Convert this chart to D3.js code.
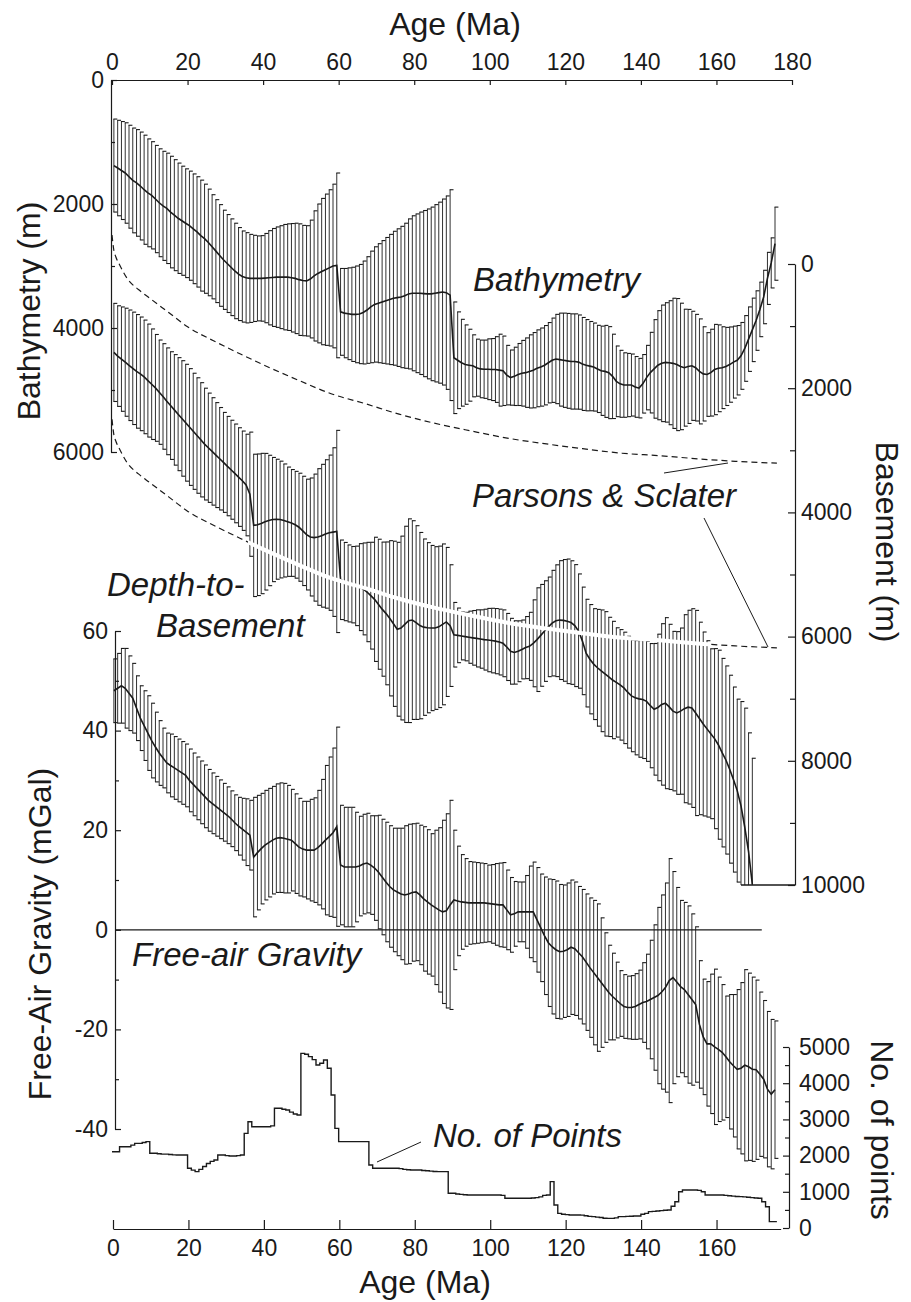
<!DOCTYPE html>
<html>
<head>
<meta charset="utf-8">
<script src="https://cdn.jsdelivr.net/npm/d3@7"></script>
<style>
  body { margin: 0; background: #fff; }
  text { font-family: "Liberation Sans", Arial, Helvetica, sans-serif; fill: #1a1a1a; }
</style>
</head>
<body>
<div id="graph"></div>
<script>
// ---- data (1 Ma bins, bar i sits at age i + 0.5) ----
const bathyMean = [
  1380,1420,1460,1500,1560,1620,1660,1710,1770,1820,
  1860,1920,1980,2030,2070,2130,2180,2230,2270,2310,
  2350,2400,2450,2510,2560,2620,2690,2760,2830,2900,
  2960,3020,3080,3130,3170,3190,3200,3200,3200,3200,
  3195,3190,3185,3180,3180,3180,3180,3190,3200,3220,
  3235,3240,3210,3160,3120,3090,3060,3030,3000,2990,
  3740,3760,3770,3780,3780,3775,3750,3710,3660,3620,
  3600,3580,3560,3540,3520,3510,3500,3480,3450,3440,
  3440,3440,3445,3450,3450,3440,3430,3420,3430,3470,
  4480,4520,4560,4590,4600,4610,4640,4660,4665,4665,
  4670,4670,4680,4690,4760,4800,4780,4750,4730,4720,
  4700,4680,4650,4630,4600,4560,4520,4500,4510,4520,
  4530,4540,4540,4550,4580,4600,4615,4630,4660,4690,
  4700,4720,4780,4860,4900,4920,4920,4920,4950,4970,
  4900,4800,4720,4660,4600,4570,4555,4560,4570,4590,
  4620,4640,4620,4610,4640,4700,4740,4750,4720,4670,
  4650,4640,4620,4590,4550,4520,4450,4330,4180,4030,
  3880,3700,3500,3200,2950,2640
]
const bathySd = [
  750,770,790,810,830,845,860,870,880,870,
  865,865,870,880,890,900,895,890,880,877,
  880,885,890,895,880,860,840,830,820,800,
  790,780,770,750,735,728,710,695,685,690,
  720,760,790,810,830,850,860,875,890,900,
  890,890,950,1050,1120,1180,1220,1260,1320,1490,
  700,720,740,760,780,800,830,860,900,930,
  960,990,1020,1050,1080,1110,1140,1170,1210,1250,
  1280,1310,1340,1370,1400,1430,1460,1500,1560,1700,
  900,780,700,640,580,500,460,465,470,490,
  500,530,580,560,480,445,470,500,530,560,
  590,607,620,630,640,648,680,720,750,760,
  765,768,768,760,750,736,720,710,703,720,
  742,742,680,570,540,520,510,500,490,480,
  472,520,650,795,880,940,963,1000,1050,1065,
  1020,943,920,880,860,847,760,675,700,728,
  700,660,630,607,580,560,539,530,520,512,
  480,440,431,420,404,590
]
const baseMean = [
  1424,1483,1532,1582,1631,1680,1729,1769,1818,1877,
  1936,1995,2064,2133,2211,2280,2349,2418,2487,2556,
  2625,2694,2762,2831,2900,2959,3018,3077,3136,3195,
  3254,3313,3372,3431,3490,3559,3707,4209,4199,4179,
  4150,4130,4115,4110,4115,4130,4150,4170,4199,4239,
  4298,4357,4396,4406,4396,4376,4347,4327,4317,4307,
  5085,5114,5144,5164,5183,5203,5232,5282,5341,5400,
  5479,5558,5626,5705,5794,5882,5862,5803,5744,5734,
  5774,5823,5848,5857,5862,5862,5843,5803,5764,5823,
  5970,5980,5990,6000,6010,6020,6029,6039,6049,6056,
  6064,6073,6088,6108,6167,6236,6255,6236,6207,6177,
  6157,6108,6049,5980,5911,5843,5783,5744,5734,5739,
  5754,5774,5823,5911,6069,6266,6364,6443,6502,6551,
  6600,6649,6699,6738,6777,6826,6895,6954,6984,7003,
  7013,7043,7112,7171,7141,7092,7072,7132,7200,7230,
  7200,7161,7136,7151,7230,7318,7407,7486,7564,7643,
  7741,7869,7987,8135,8302,8480,8726,9070,9464,9990
]
const baseSd = [
  790,810,840,870,890,905,915,915,915,910,
  890,860,840,850,860,867,890,910,930,941,
  940,935,930,920,900,880,865,845,825,805,
  800,797,795,794,800,818,1000,1146,1140,1130,
  1100,1050,1000,966,940,910,880,860,860,870,
  880,892,950,1023,1100,1150,1195,1250,1358,1628,
  640,630,620,615,640,700,740,800,860,1000,
  1047,1080,1150,1250,1330,1400,1480,1580,1640,1600,
  1560,1500,1420,1370,1330,1310,1300,1295,1200,980,
  520,440,385,390,420,440,460,470,490,510,
  520,525,530,538,540,530,510,490,474,500,
  548,700,835,820,810,802,850,900,957,980,
  1003,995,982,920,866,867,880,893,940,980,
  1002,960,945,880,890,897,900,900,920,940,
  950,966,1000,1060,1180,1300,1377,1330,1284,1310,
  1338,1514,1560,1600,1652,1550,1481,1420,1368,1450,
  1522,1518,1515,1513,1490,1473,1680,1918,1914,2031
]
const gravMean = [
  48,48.5,49,48.5,47.5,46.5,44.5,42.5,41,39.5,
  38,36.7,35.5,34.5,33.5,33,32.5,32,31.5,31,
  30,29.2,28.4,27.6,26.8,26,25.4,24.8,24.2,23.6,
  23,22.3,21.5,20.8,20.2,19.6,19,14.6,15.5,16.3,
  17,17.5,18,18.4,18.5,18.4,18.2,18,17.3,16.6,
  16.2,16,16,16,16.5,17.2,18,18.7,19.5,20.7,
  13,12.6,12.6,12.6,12.6,12.8,13.2,13.4,13,12.4,
  11.6,10.6,9.6,8.7,8,7.6,7.2,7,7.2,7.5,
  7.6,7,6.2,5.6,5,4.5,4,3.6,3.8,5,
  6,5.8,5.6,5.5,5.4,5.4,5.4,5.4,5.4,5.3,
  5.2,5.1,5,5,4,3,3.2,3.6,3.6,3.6,
  3.6,3.6,2,0.4,-1.2,-2.6,-3.4,-4,-4.4,-4.3,
  -4,-3.5,-3.8,-4.6,-5.4,-6.5,-7.6,-8.6,-9.6,-10.6,
  -11.6,-12.6,-13.4,-14.1,-14.8,-15.4,-15.6,-15.6,-15.4,-15,
  -14.6,-14.4,-14,-13.6,-13.2,-12.5,-11.6,-10.2,-9.6,-10.5,
  -11.4,-12,-13,-14,-15,-19,-21.5,-22.9,-22.9,-23.5,
  -24,-24.6,-25.5,-26.5,-27.3,-28,-27.8,-27.2,-27.5,-28,
  -28.1,-29,-30,-32,-33,-32.1
]
const gravSd = [
  6.4,7,7.5,8,7.5,7,6.5,6.5,7,7.5,
  7.5,7,6.5,6,6,6.3,6.3,6.3,6.3,6.3,
  6.3,6.3,6.3,6.3,6.3,6.2,6.1,6,5.9,5.8,
  5.7,5.6,5.6,5.8,6.2,6.7,7,12,11.5,11.1,
  11,10.9,10.8,10.9,11,11,10.8,10.2,10,9.8,
  9.6,9.8,10.2,10.5,11.5,13,15,16,17,20,
  12,12,12,12,11,10,10,10,9.9,10.5,
  11.4,11.6,12,12.2,12.4,12.8,13.2,13.9,14,13.8,
  13.8,14,14.5,14.5,14.3,15.5,16.5,18.4,19.5,21,
  14,11,9.5,8.8,8.3,8.2,8.1,8,7.9,7.7,
  7.9,8.2,8.4,8.5,8,7.5,6.5,6,6,7.3,
  9.2,10,10.5,10.8,11.8,12.8,13.5,13.8,13.5,13.3,
  13.4,13.5,13.4,13.3,13.5,13.7,14,14.5,14.8,13,
  11,9.5,8.7,7.6,6.6,6.4,6.3,6.4,6.6,6.9,
  8,9.5,11.9,14.6,17.7,19.5,21,24.5,21.3,19,
  17.3,17.5,17.8,17.2,15.6,12.8,11.6,12.5,14,15.6,
  14.5,13.6,12.2,13.5,14.3,16,17.2,19.2,18.8,18.5,
  18,16.5,15.8,15.6,15,13.8
]
const nPoints = [
  2108,2108,2246,2246,2246,2290,2339,2339,2360,2385,
  2063,2063,2050,2040,2040,2030,2020,2017,2017,2017,
  1649,1600,1556,1620,1700,1780,1840,1878,2017,2017,
  2000,1989,1989,2000,2017,2615,2937,2799,2799,2799,
  2799,2799,2820,3306,3306,3280,3260,3200,3150,3122,
  4825,4800,4733,4650,4503,4550,4641,4411,3674,2753,
  2385,2385,2385,2385,2385,2385,2385,2385,1740,1649,
  1649,1649,1649,1649,1649,1649,1640,1620,1610,1602,
  1602,1602,1590,1580,1570,1560,1556,1556,1556,958,
  958,940,930,920,912,912,912,912,912,912,
  912,912,912,900,820,820,820,820,820,820,
  820,830,840,860,900,912,1280,635,405,380,
  370,359,359,359,355,340,320,313,300,290,
  270,267,267,280,313,313,320,325,330,331,
  380,405,451,460,470,480,490,497,600,727,
  1003,1050,1050,1050,1050,1040,1003,912,912,912,
  912,912,900,890,880,870,866,860,850,840,
  830,820,727,589,175,175
]
// Parsons & Sclater depth curve
const psAge = [0, 0.5, 1, 2, 4, 7, 10, 15, 20, 27, 34, 41, 50, 58, 67, 76, 85, 95, 105, 115, 125, 135, 145, 155, 165, 176]
const psDepth = [2500, 2750, 2850, 2980, 3200, 3380, 3520, 3750, 3980, 4210, 4420, 4620, 4860, 5060, 5220, 5390, 5530, 5660, 5780, 5870, 5950, 6020, 6060, 6110, 6150, 6180]

const ageTicks = [0, 20, 40, 60, 80, 100, 120, 140, 160, 180]
const ageTicksBottom = [0, 20, 40, 60, 80, 100, 120, 140, 160]

// ---- layout ----
const WIDTH = 911, HEIGHT = 1302
const INK = "#1a1a1a"

const svg = d3.select("#graph").append("svg")
    .attr("width", WIDTH)
    .attr("height", HEIGHT)
    .style("background", "#fff")

const x = d3.scaleLinear().domain([0, 180]).range([112, 792])
const xBottom = d3.scaleLinear().domain([0, 177]).range([x(0) + 1, x(177)])
const yBathy = d3.scaleLinear().domain([0, 6000]).range([80, 452])
const yBase = d3.scaleLinear().domain([0, 10000]).range([264, 885])
const yGrav = d3.scaleLinear().domain([60, -40]).range([631, 1129])
const yN = d3.scaleLinear().domain([0, 5000]).range([1228, 1047])

function styleAxis(sel, size) {
  sel.selectAll("path, line").attr("stroke", INK).attr("stroke-width", 1.2)
  sel.selectAll("text").attr("font-size", size).attr("fill", INK)
  sel.attr("font-family", null)
}

function minorTicks(axisFn, scale, values, len, tx, ty) {
  const gm = svg.append("g")
      .attr("transform", `translate(${tx}, ${ty})`)
      .call(axisFn(scale).tickValues(values).tickSize(len).tickFormat(""))
  gm.select(".domain").remove()
  styleAxis(gm, "1px")
}

// ---- error-bar series ----
function drawSeries(means, sds, y, maxVal) {
  const rows = means.map((m, i) => {
    const lo = m - sds[i]
    const hiRaw = m + sds[i]
    const hi = maxVal !== undefined ? Math.min(hiRaw, maxVal) : hiRaw
    return { a: i + 0.5, m: maxVal !== undefined ? Math.min(m, maxVal) : m, lo, hi, clipped: hi < hiRaw }
  })
  const g = svg.append("g")
  g.selectAll("line.bar")
      .data(rows)
      .join("line")
      .attr("class", "bar")
      .attr("x1", d => x(d.a)).attr("x2", d => x(d.a))
      .attr("y1", d => y(d.lo)).attr("y2", d => y(d.hi))
      .attr("stroke", INK).attr("stroke-width", 0.9)
  const caps = rows.flatMap(d => {
    const c = [{ a: d.a, v: d.lo }]
    if (!d.clipped) c.push({ a: d.a, v: d.hi })
    return c
  })
  g.selectAll("line.cap")
      .data(caps)
      .join("line")
      .attr("class", "cap")
      .attr("x1", d => x(d.a) - 0.5).attr("x2", d => x(d.a) + 3.4)
      .attr("y1", d => y(d.v)).attr("y2", d => y(d.v))
      .attr("stroke", INK).attr("stroke-width", 1.1)
  g.append("path")
      .datum(rows)
      .attr("fill", "none")
      .attr("stroke", INK)
      .attr("stroke-width", 1.6)
      .attr("d", d3.line().x(d => x(d.a)).y(d => y(d.m)))
  return rows
}

drawSeries(bathyMean, bathySd, yBathy)
const baseRows = drawSeries(baseMean, baseSd, yBase, 10000)
drawSeries(gravMean, gravSd, yGrav)

// bottom closing line where basement bars run off the scale
const firstClip = baseRows.find(d => d.clipped)
svg.append("line")
    .attr("x1", x(firstClip.a)).attr("x2", 795)
    .attr("y1", yBase(10000)).attr("y2", yBase(10000))
    .attr("stroke", INK).attr("stroke-width", 1.3)

// zero gravity line
svg.append("line")
    .attr("x1", 115).attr("x2", x(172))
    .attr("y1", yGrav(0)).attr("y2", yGrav(0))
    .attr("stroke", INK).attr("stroke-width", 1.2)

// ---- Parsons & Sclater curves ----
const psData = psAge.map((a, i) => ({ a, d: psDepth[i] }))
const psLine = y => d3.line().curve(d3.curveMonotoneX).x(d => x(d.a)).y(d => y(d.d))

svg.append("path")
    .datum(psData)
    .attr("fill", "none").attr("stroke", INK).attr("stroke-width", 1.2)
    .attr("stroke-dasharray", "6,4")
    .attr("d", psLine(yBathy))

svg.append("path")
    .datum(psData)
    .attr("fill", "none").attr("stroke", INK).attr("stroke-width", 1.2)
    .attr("stroke-dasharray", "6,4")
    .attr("d", psLine(yBase))

svg.append("clipPath").attr("id", "whiteClip")
  .append("rect")
    .attr("x", x(36)).attr("width", x(158) - x(36))
    .attr("y", 0).attr("height", HEIGHT)

svg.append("path")
    .datum(psData)
    .attr("clip-path", "url(#whiteClip)")
    .attr("fill", "none").attr("stroke", "#fff").attr("stroke-width", 4)
    .attr("d", psLine(yBase))

// ---- No. of points ----
const nData = nPoints.map((n, i) => ({ a: i, n }))
nData.push({ a: nPoints.length, n: nPoints[nPoints.length - 1] })
svg.append("path")
    .datum(nData)
    .attr("fill", "none").attr("stroke", INK).attr("stroke-width", 1.4)
    .attr("d", d3.line().curve(d3.curveStepAfter).x(d => x(d.a)).y(d => yN(d.n)))

// ---- axes ----
const TICK_FONT = "23px"

const topAxis = svg.append("g")
    .attr("transform", `translate(0, ${yBathy(0)})`)
    .call(d3.axisTop(x).tickValues(ageTicks).tickSize(-5).tickSizeOuter(0).tickPadding(10))
styleAxis(topAxis, TICK_FONT)

const bottomAxis = svg.append("g")
    .attr("transform", `translate(0, 1229)`)
    .call(d3.axisBottom(xBottom).tickValues(ageTicksBottom).tickSize(-9).tickSizeOuter(0).tickPadding(11))
styleAxis(bottomAxis, TICK_FONT)

const bathyAxis = svg.append("g")
    .attr("transform", `translate(${x(0) - 1}, 0)`)
    .call(d3.axisLeft(yBathy).tickValues([0, 2000, 4000, 6000]).tickSize(-6).tickSizeOuter(0).tickPadding(7).tickFormat(d3.format("d")))
styleAxis(bathyAxis, TICK_FONT)
minorTicks(d3.axisLeft, yBathy, [1000, 3000, 5000], -4, x(0) - 1, 0)

const baseAxis = svg.append("g")
    .attr("transform", `translate(795, 0)`)
    .call(d3.axisRight(yBase).tickValues([0, 2000, 4000, 6000, 8000, 10000]).tickSize(-7).tickSizeOuter(0).tickPadding(6).tickFormat(d3.format("d")))
styleAxis(baseAxis, TICK_FONT)
minorTicks(d3.axisRight, yBase, [1000, 3000, 5000, 7000, 9000], -5, 795, 0)

const gravAxis = svg.append("g")
    .attr("transform", `translate(115, 0)`)
    .call(d3.axisLeft(yGrav).tickValues([60, 40, 20, 0, -20, -40]).tickSize(-6).tickSizeOuter(0).tickPadding(7).tickFormat(d => String(d)))
styleAxis(gravAxis, TICK_FONT)
minorTicks(d3.axisLeft, yGrav, [50, 30, 10, -10, -30], -4, 115, 0)

const nAxis = svg.append("g")
    .attr("transform", `translate(789, 0)`)
    .call(d3.axisRight(yN).tickValues([0, 1000, 2000, 3000, 4000, 5000]).tickSize(-6).tickSizeOuter(0).tickPadding(10).tickFormat(d3.format("d")))
styleAxis(nAxis, TICK_FONT)
minorTicks(d3.axisRight, yN, [500, 1500, 2500, 3500, 4500], -4, 789, 0)

// ---- titles ----
const TITLE_FONT = "32px"
svg.append("text").attr("x", 455).attr("y", 35)
    .attr("text-anchor", "middle").attr("font-size", TITLE_FONT).text("Age (Ma)")
svg.append("text").attr("x", 425).attr("y", 1293)
    .attr("text-anchor", "middle").attr("font-size", TITLE_FONT).text("Age (Ma)")
svg.append("text").attr("transform", "translate(40, 311) rotate(-90)")
    .attr("text-anchor", "middle").attr("font-size", TITLE_FONT).text("Bathymetry (m)")
svg.append("text").attr("transform", "translate(51, 934) rotate(-90)")
    .attr("text-anchor", "middle").attr("font-size", TITLE_FONT).text("Free-Air Gravity (mGal)")
svg.append("text").attr("transform", "translate(876, 542) rotate(90)")
    .attr("text-anchor", "middle").attr("font-size", TITLE_FONT).text("Basement (m)")
svg.append("text").attr("transform", "translate(871, 1130) rotate(90)")
    .attr("text-anchor", "middle").attr("font-size", TITLE_FONT).text("No. of points")

// ---- series labels ----
const LABEL_FONT = "33px"
const labels = [
  { t: "Bathymetry", x: 473, y: 291 },
  { t: "Parsons & Sclater", x: 472, y: 507 },
  { t: "Depth-to-", x: 107, y: 596 },
  { t: "Basement", x: 156, y: 637 },
  { t: "Free-air Gravity", x: 132, y: 966 },
  { t: "No. of Points", x: 433, y: 1147 }
]
svg.selectAll("text.lab")
    .data(labels)
    .join("text")
    .attr("class", "lab")
    .attr("x", d => d.x).attr("y", d => d.y)
    .attr("font-size", LABEL_FONT).attr("font-style", "italic")
    .text(d => d.t)

// pointer lines
const pointers = [
  { x1: 664, y1: 473, x2: 728, y2: 463 },
  { x1: 704, y1: 518, x2: 768, y2: 647 },
  { x1: 421, y1: 1142, x2: 377, y2: 1162 }
]
svg.selectAll("line.ptr")
    .data(pointers)
    .join("line")
    .attr("class", "ptr")
    .attr("x1", d => d.x1).attr("y1", d => d.y1)
    .attr("x2", d => d.x2).attr("y2", d => d.y2)
    .attr("stroke", INK).attr("stroke-width", 1)
</script>
</body>
</html>
